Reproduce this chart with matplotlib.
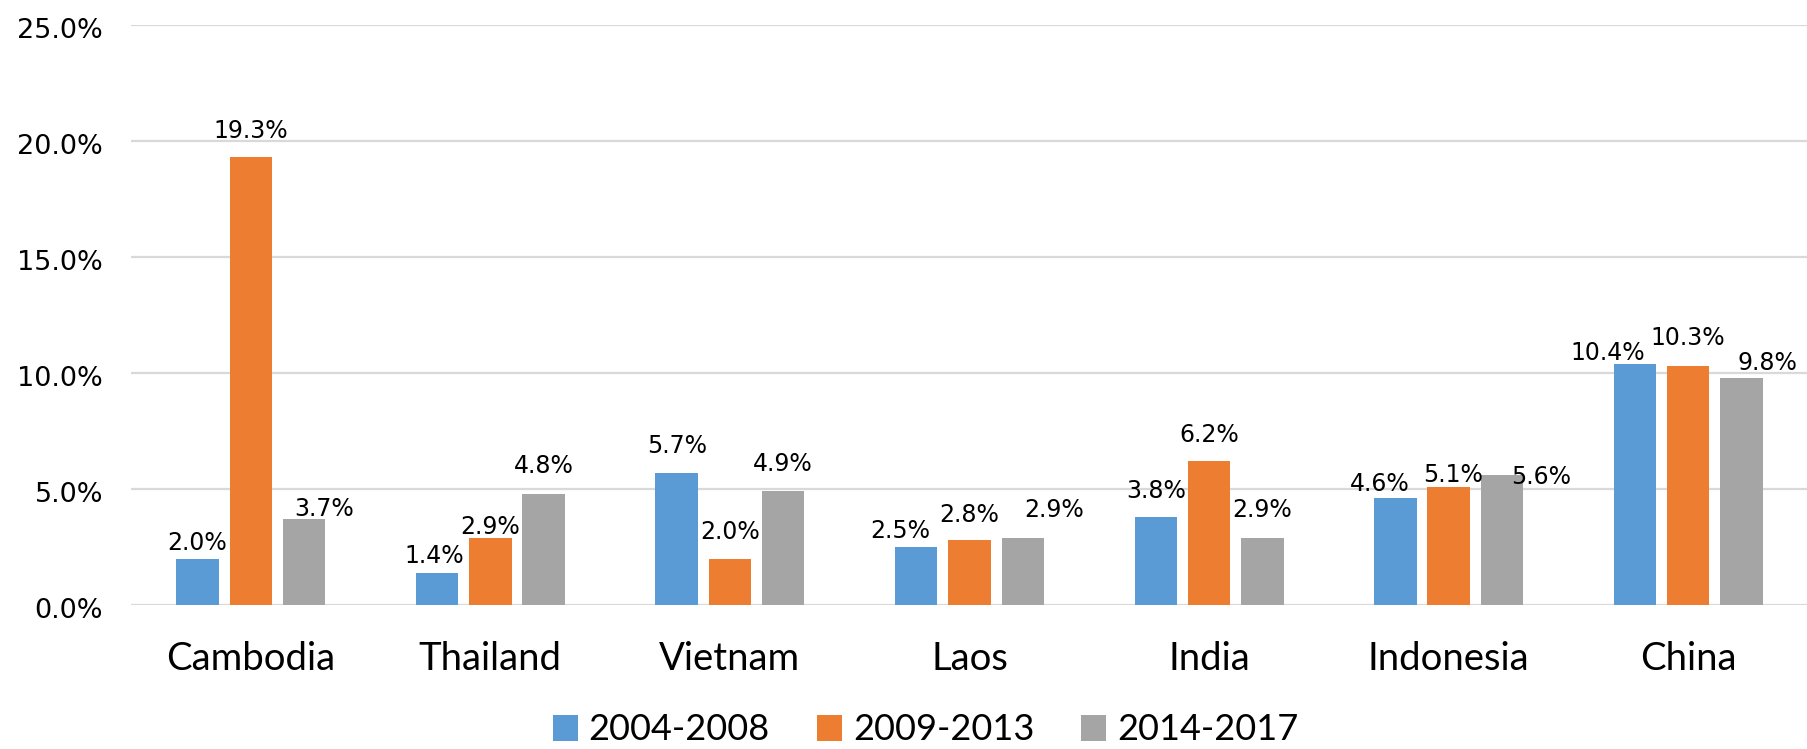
import matplotlib
matplotlib.use("Agg")
import matplotlib.pyplot as plt
import matplotlib.transforms as mtrans
import numpy as np

categories = ["Cambodia", "Thailand", "Vietnam", "Laos", "India", "Indonesia", "China"]
series_names = ["2004-2008", "2009-2013", "2014-2017"]
s2004_2008 = [2.0, 1.4, 5.7, 2.5, 3.8, 4.6, 10.4]
s2009_2013 = [19.3, 2.9, 2.0, 2.8, 6.2, 5.1, 10.3]
s2014_2017 = [3.7, 4.8, 4.9, 2.9, 2.9, 5.6, 9.8]
y_ticks = [0, 5, 10, 15, 20, 25]

colors = ["#5B9BD5", "#ED7D31", "#A5A5A5"]

# label offsets in pixels (dx, gap above bar top), per series per category
label_offsets = [
    [(0, 9), (-3, 10), (0, 20), (-16, 9), (0, 19), (-16, 7), (-27, 4)],
    [(0, 19), (0, 4), (0, 20), (0, 18), (0, 19), (4, 5), (0, 21)],
    [(20, 3), (0, 21), (0, 20), (31, 21), (0, 21), (39, -9), (26, 8)],
]

plt.rcParams["font.family"] = ["DejaVu Sans"]
DPI = 100
fig = plt.figure(figsize=(18.07, 7.49), dpi=DPI)
W, H = 1807, 749
ax = fig.add_axes([131 / W, (H - 605) / H, (1808 - 131) / W, 580 / H])

x = np.arange(len(categories))
step = 53.3 / 239.6
bw = 42.5 / 239.6
series = [s2004_2008, s2009_2013, s2014_2017]
px2pt = 72 / DPI
for i, (vals, name, c) in enumerate(zip(series, series_names, colors)):
    pos = x + (i - 1) * step
    ax.bar(pos, vals, width=bw, color=c, label=name, zorder=3)
    for j, (xp, v) in enumerate(zip(pos, vals)):
        dx, gap = label_offsets[i][j]
        ax.annotate(f"{v:.1f}%", xy=(xp, v), xytext=(dx * px2pt, gap * px2pt),
                    textcoords="offset points", ha="center", va="baseline",
                    fontsize=17, color="#000000", zorder=4)

ax.set_xlim(-0.5, len(categories) - 0.5)
ax.set_ylim(0, 25)
ax.set_yticks(y_ticks)
ax.set_yticklabels([f"{t:.1f}%" for t in y_ticks])
ax.set_xticks(x)
ax.set_xticklabels(categories, family=["Lato", "DejaVu Sans"], fontsize=27.5)
ax.tick_params(axis="y", length=0, pad=20, labelsize=19.5)
ax.tick_params(axis="x", length=0, pad=26)
shift = mtrans.ScaledTranslation(0, -3 / DPI, fig.dpi_scale_trans)
for lab in ax.get_yticklabels():
    lab.set_transform(lab.get_transform() + shift)
ax.yaxis.grid(True, color="#D9D9D9", linewidth=1.6, zorder=0)
ax.set_axisbelow(True)
for s in ax.spines.values():
    s.set_visible(False)

fig.legend(loc="center", bbox_to_anchor=(925.5 / W, 1 - 730 / H), ncol=3,
           frameon=False, prop={"family": ["Lato", "DejaVu Sans"], "size": 26},
           handlelength=0.7, handleheight=0.7,
           handletextpad=0.3, columnspacing=1.3, borderpad=0, borderaxespad=0)

fig.savefig("out.png", dpi=DPI)
